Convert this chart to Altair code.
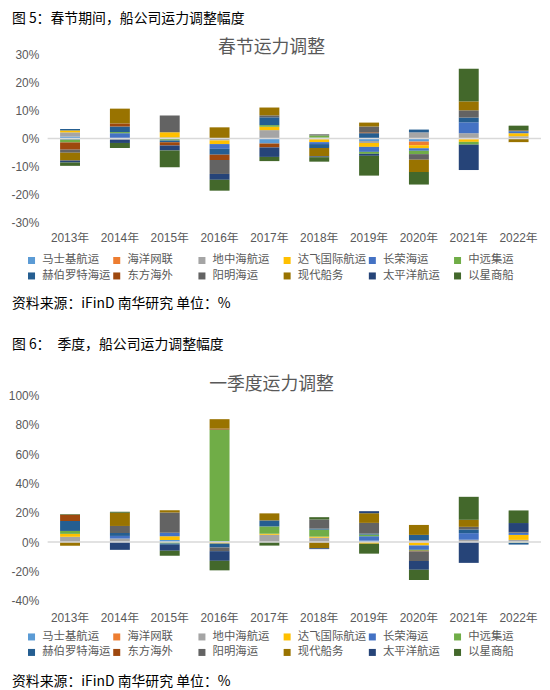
import altair as alt
import pandas as pd

years = ["2013年", "2014年", "2015年", "2016年", "2017年", "2018年", "2019年", "2020年", "2021年", "2022年"]
companies = ["马士基航运", "海洋网联", "地中海航运", "达飞国际航运", "长荣海运", "中远集运",
             "赫伯罗特海运", "东方海外", "阳明海运", "现代船务", "太平洋航运", "以星商船"]
colors = ["#5B9BD5", "#ED7D31", "#A5A5A5", "#FFC000", "#4472C4", "#70AD47",
          "#255E91", "#9E480E", "#636363", "#997300", "#264478", "#43682B"]

# 春节运力调整 (%)
cny_maersk = [0.7, 0.2, 0.4, 0.0, -1.8, -0.3, -0.9, -1.1, 0.0, 0.0]
cny_one = [0.0, 0.0, 0.0, 0.0, 0.0, 0.0, 0.0, -1.3, -0.3, 0.0]
cny_msc = [1.5, -0.4, 0.0, -0.7, 3.0, 0.3, -0.7, 2.2, 1.9, 0.8]
cny_cma = [0.7, 0.0, 1.8, -1.3, 1.2, -1.0, -1.4, -1.1, -0.9, 1.1]
cny_evergreen = [-0.4, 1.7, 0.0, -1.7, 0.0, -0.7, -1.8, -0.9, 3.9, 0.6]
cny_cosco = [-1.0, 0.4, -0.7, 0.0, 0.6, 0.8, -0.7, -1.2, -1.0, 0.0]
cny_hapag = [0.5, 2.0, -0.6, -2.1, 2.8, -1.4, 1.9, 1.0, 1.7, 0.2]
cny_oocl = [-2.6, 1.1, -1.2, -1.9, -1.4, 0.0, 0.3, 0.0, 0.0, 0.2]
cny_ym = [-1.1, 0.0, 6.0, -5.0, 0.7, 0.4, 2.1, -2.0, 2.6, 0.0]
cny_hmm = [-2.8, 5.3, 0.0, 4.0, 2.8, -3.0, 1.4, -4.4, 3.2, -1.3]
cny_pil = [-0.7, -1.2, -1.8, -2.1, -3.4, -0.3, -0.7, 0.0, -9.1, 0.0]
cny_zim = [-1.2, -1.8, -6.0, -3.9, -1.5, -1.6, -7.1, -4.5, 11.7, 1.7]

# 一季度运力调整 (%)
q1_maersk = [0.0, 0.4, 1.5, 0.8, 0.0, 0.0, 1.0, 0.5, 0.0, 0.0]
q1_one = [0.0, 0.0, 0.0, 0.0, 0.0, 0.0, 0.0, -0.5, 0.0, 0.0]
q1_msc = [3.6, 2.0, 0.0, 0.0, 5.0, 3.0, 0.0, 0.8, 1.6, 1.5]
q1_cma = [2.0, 0.0, 2.5, -1.0, 0.7, 0.7, -1.1, -1.8, 0.0, 3.4]
q1_evergreen = [0.0, 1.8, 2.3, 0.0, 0.0, 0.0, 3.0, -3.0, 4.5, 1.5]
q1_cosco = [2.0, 0.0, -0.9, 76.0, 5.0, 4.8, 1.1, -0.6, 0.0, -0.5]
q1_hapag = [6.8, 2.0, -1.0, -2.7, 4.1, 0.7, 0.7, 3.6, 2.5, -1.2]
q1_oocl = [4.3, 0.0, 0.0, 0.7, 0.0, 0.0, 0.0, -0.5, 0.0, 0.0]
q1_ym = [0.0, 4.8, 13.9, -2.5, 0.0, 6.2, 7.3, -6.5, 1.8, 0.5]
q1_hmm = [-2.5, 9.0, 1.6, 6.4, 4.8, -4.2, 6.6, 6.8, 4.8, 0.0]
q1_pil = [0.0, -5.3, -4.0, -6.6, 0.0, -0.6, 1.4, -6.0, -14.2, 6.1]
q1_zim = [0.4, 0.7, -3.4, -6.5, -2.4, 1.6, -6.8, -7.0, 15.7, 8.6]

cny_series = [cny_maersk, cny_one, cny_msc, cny_cma, cny_evergreen, cny_cosco,
              cny_hapag, cny_oocl, cny_ym, cny_hmm, cny_pil, cny_zim]
q1_series = [q1_maersk, q1_one, q1_msc, q1_cma, q1_evergreen, q1_cosco,
             q1_hapag, q1_oocl, q1_ym, q1_hmm, q1_pil, q1_zim]

header1 = "图 5：春节期间，船公司运力调整幅度"
title1 = "春节运力调整"
source1 = "资料来源：iFinD 南华研究  单位：%"
header2 = "图 6：　季度，船公司运力调整幅度"
title2 = "一季度运力调整"
source2 = "资料来源：iFinD 南华研究  单位：%"

cny_ticks = [-30, -20, -10, 0, 10, 20, 30]
q1_ticks = [-40, -20, 0, 20, 40, 60, 80, 100]

FONT = "Noto Sans CJK SC"
NUM_FONT = "Liberation Sans, Noto Sans CJK SC"
GRAY = "#595959"
W = 498


def build(series):
    rows = []
    for ci, (c, vals) in enumerate(zip(companies, series)):
        for y, v in zip(years, vals):
            if v != 0:
                rows.append({"year": y, "company": c, "value": v, "idx": ci})
    return pd.DataFrame(rows)


def label(text, x, y, size, color, align="left", baseline="middle"):
    return alt.Chart(pd.DataFrame({"t": [text]})).mark_text(
        align=align, baseline=baseline, fontSize=size, font=FONT, color=color
    ).encode(x=alt.value(x), y=alt.value(y), text="t:N")


def panel(series, ydom, yvals, h, header, header_y, title, title_y,
          source, source_y, legend_y, colpad, xpad):
    df = build(series)
    yaxis = alt.Axis(title=None, values=yvals, labelExpr="datum.value + '%'",
                     grid=False, domain=False, ticks=False, labelPadding=9,
                     labelOverlap=False, labelFontSize=12, labelColor=GRAY,
                     labelFont=NUM_FONT)
    yscale = alt.Scale(domain=ydom, nice=False, zero=False)
    bars = alt.Chart(df).mark_bar().encode(
        x=alt.X("year:N", sort=years,
                scale=alt.Scale(domain=years, paddingInner=0.6, paddingOuter=0.25),
                axis=alt.Axis(title=None, labelAngle=0, domain=False, ticks=False,
                              labelPadding=xpad, labelFontSize=12, labelColor=GRAY,
                              labelFont=NUM_FONT)),
        y=alt.Y("value:Q", stack="zero", scale=yscale, axis=yaxis),
        color=alt.Color("company:N", sort=companies,
                        scale=alt.Scale(domain=companies, range=colors),
                        legend=alt.Legend(title=None, orient="none", legendX=-22,
                                          legendY=legend_y, direction="horizontal",
                                          columns=6, gridAlign="all",
                                          columnPadding=colpad, rowPadding=3,
                                          symbolType="square", symbolSize=50,
                                          symbolStrokeWidth=0, labelFontSize=11.5,
                                          labelColor=GRAY, labelFont=FONT,
                                          labelOffset=5, padding=0, labelLimit=120)),
        order=alt.Order("idx:Q", sort="ascending"),
    )
    zero = alt.Chart(pd.DataFrame({"value": [0]})).mark_rule(
        color="#D9D9D9", strokeWidth=1.5).encode(
        y=alt.Y("value:Q", scale=yscale, axis=yaxis))
    layers = [bars, zero,
              label(header, -36, header_y, 14, "black"),
              label(title, 226, title_y, 18, GRAY, align="center"),
              label(source, -36, source_y, 14, "black")]
    return alt.layer(*layers).properties(width=W, height=h)


c1 = panel(cny_series, [-30, 30], cny_ticks, 169, header1, -36, title1, -7,
           source1, 252, 201.5, -5, 10.5)
c2 = panel(q1_series, [-40, 100], q1_ticks, 207, header2, -51, title2, -11,
           source2, 289, 237.5, -2, 12)

chart = alt.vconcat(c1, c2, spacing=27).resolve_scale(color="independent").properties(
    padding={"left": 0, "top": 1, "right": 0, "bottom": 4}
).configure_view(stroke=None).configure_axisY(labelOverlap=False)

chart.save("out.html", embed_options={"renderer": "svg", "actions": False})
